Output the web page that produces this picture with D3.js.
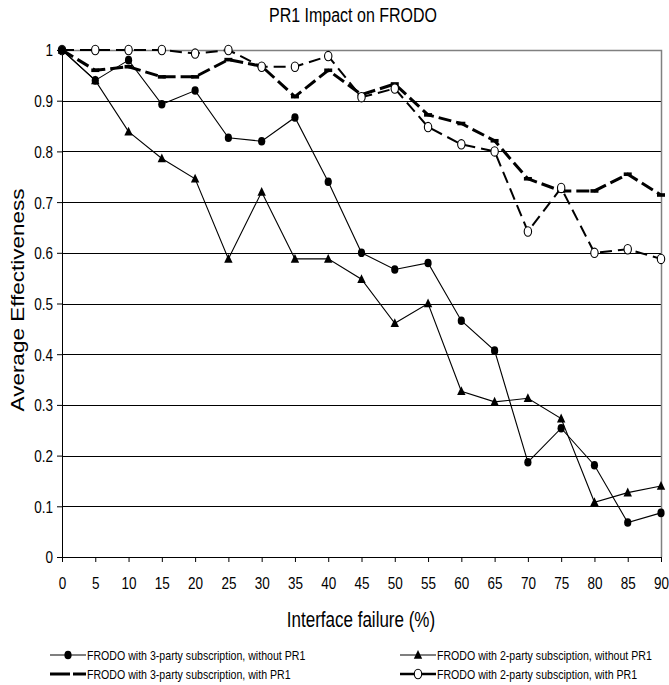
<!DOCTYPE html>
<html>
<head>
<meta charset="utf-8">
<script src="https://cdn.jsdelivr.net/npm/d3@7"></script>
<style>
  body { margin: 0; background: #fff; }
  svg { display: block; }
</style>
</head>
<body>
<div id="chart"></div>
<script>
// interface failure (%) on the x axis
const failure = [0, 5, 10, 15, 20, 25, 30, 35, 40, 45, 50, 55, 60, 65, 70, 75, 80, 85, 90];

// average effectiveness, one array per series
const threePartyNoPR1 = [1, 0.94, 0.98, 0.893, 0.92, 0.827, 0.82, 0.867, 0.74, 0.60, 0.567, 0.58, 0.466, 0.407, 0.187, 0.254, 0.181, 0.068, 0.087];
const twoPartyNoPR1   = [1, 0.94, 0.839, 0.786, 0.746, 0.588, 0.72, 0.588, 0.588, 0.548, 0.461, 0.50, 0.327, 0.306, 0.313, 0.273, 0.108, 0.127, 0.14];
const threePartyPR1   = [1, 0.96, 0.967, 0.947, 0.947, 0.981, 0.968, 0.908, 0.96, 0.912, 0.933, 0.872, 0.855, 0.821, 0.746, 0.722, 0.722, 0.755, 0.714];
const twoPartyPR1     = [1, 1, 1, 1, 0.993, 1, 0.967, 0.967, 0.988, 0.907, 0.924, 0.848, 0.814, 0.80, 0.642, 0.728, 0.60, 0.607, 0.588];

const yTicks = [0, 0.1, 0.2, 0.3, 0.4, 0.5, 0.6, 0.7, 0.8, 0.9, 1];

const seriesNames = [
  "FRODO with 3-party subscription, without PR1",
  "FRODO with 2-party subsciption, without PR1",
  "FRODO with 3-party subscription, with PR1",
  "FRODO with 2-party subsciption, with PR1"
];

const chartTitle = "PR1 Impact on FRODO";
const xTitle = "Interface failure (%)";
const yTitle = "Average Effectiveness";

// layout
const width = 669, height = 685;
const plotLeft = 62, plotRight = 661, plotTop = 50, plotBottom = 557;
const SY = 1.25;           // the reference is stretched vertically
const font = "'Liberation Sans', Arial, sans-serif";

const svg = d3.select("#chart").append("svg")
  .attr("width", width)
  .attr("height", height)
  .style("font-family", font);

const x = d3.scaleLinear().domain([0, 90]).range([plotLeft, plotRight]);
const y = d3.scaleLinear().domain([0, 1]).range([plotBottom, plotTop]);

function placeText(sel, tx, ty) {
  sel.attr("transform", "translate(" + tx + "," + ty + ") scale(1," + SY + ")");
}

// grid lines
svg.append("g")
  .attr("stroke", "#000")
  .attr("shape-rendering", "crispEdges")
  .selectAll("line")
  .data(yTicks.filter(d => d > 0 && d < 1))
  .enter().append("line")
  .attr("x1", plotLeft).attr("x2", plotRight)
  .attr("y1", d => Math.round(y(d)) + 0.5)
  .attr("y2", d => Math.round(y(d)) + 0.5);

// top and right frame
svg.append("path")
  .attr("d", "M" + plotLeft + "," + (plotTop + 0.5) + "H" + (plotRight + 0.5) + "V" + plotBottom)
  .attr("fill", "none")
  .attr("stroke", "#808080")
  .attr("stroke-width", 1.5);

// x axis
const xAxis = d3.axisBottom(x)
  .tickValues(failure)
  .tickSize(5)
  .tickSizeOuter(0)
  .tickFormat(d => String(d));

const gx = svg.append("g")
  .attr("transform", "translate(0," + plotBottom + ")")
  .call(xAxis);
gx.select(".domain").attr("stroke", "#000");
gx.selectAll(".tick line").attr("stroke", "#000");
gx.selectAll(".tick text")
  .attr("y", null).attr("dy", "0.35em")
  .attr("fill", "#000")
  .style("font-size", "13.5px")
  .style("font-family", font)
  .each(function () { placeText(d3.select(this), 0, 26); });

// y axis
const yAxis = d3.axisLeft(y)
  .tickValues(yTicks)
  .tickSize(5)
  .tickSizeOuter(0)
  .tickFormat(d => String(+d.toFixed(1)));

const gy = svg.append("g")
  .attr("transform", "translate(" + plotLeft + ",0)")
  .call(yAxis);
gy.select(".domain").attr("stroke", "#000");
gy.selectAll(".tick line").attr("stroke", "#000");
gy.selectAll(".tick text")
  .attr("x", null).attr("dy", "0.35em")
  .attr("fill", "#000")
  .style("font-size", "13.5px")
  .style("font-family", font)
  .each(function () { placeText(d3.select(this), -9, 0); });

// series
const line = d3.line()
  .x((d, i) => x(failure[i]))
  .y(d => y(d));

const series = [
  { values: threePartyNoPR1, width: 1.1, dash: null, marker: "dot" },
  { values: twoPartyNoPR1, width: 1.1, dash: null, marker: "triangle" },
  { values: threePartyPR1, width: 3, dash: "13,5", marker: "dash" },
  { values: twoPartyPR1, width: 2, dash: "12,6", marker: "ring" }
];

function drawMarker(g, kind, cx, cy) {
  if (kind === "dot") {
    g.append("ellipse").attr("cx", cx).attr("cy", cy)
      .attr("rx", 3.6).attr("ry", 4.3).attr("fill", "#000");
  } else if (kind === "triangle") {
    g.append("path")
      .attr("d", "M" + cx + "," + (cy - 5) + "L" + (cx + 4.2) + "," + (cy + 3.8) + "L" + (cx - 4.2) + "," + (cy + 3.8) + "Z")
      .attr("fill", "#000");
  } else if (kind === "dash") {
    g.append("rect").attr("x", cx - 4).attr("y", cy - 1.8)
      .attr("width", 8).attr("height", 3.6).attr("fill", "#000");
  } else if (kind === "ring") {
    g.append("ellipse").attr("cx", cx).attr("cy", cy)
      .attr("rx", 3.7).attr("ry", 4.7)
      .attr("fill", "#fff").attr("stroke", "#000").attr("stroke-width", 1.1);
  }
}

// draw dashed series first, solid series on top
[2, 3, 1, 0].forEach(k => {
  const s = series[k];
  const g = svg.append("g");
  g.append("path")
    .datum(s.values)
    .attr("d", line)
    .attr("fill", "none")
    .attr("stroke", "#000")
    .attr("stroke-width", s.width)
    .attr("stroke-dasharray", s.dash);
  s.values.forEach((v, i) => drawMarker(g, s.marker, x(failure[i]), y(v)));
});

// titles
svg.append("text")
  .text(chartTitle)
  .attr("text-anchor", "middle").attr("dy", "0.35em")
  .style("font-size", "16px")
  .call(placeText, 353, 15);

svg.append("text")
  .text(xTitle)
  .attr("text-anchor", "middle").attr("dy", "0.35em")
  .style("font-size", "17px")
  .call(placeText, 361, 620);

svg.append("g")
  .call(placeText, 18, 300)
  .append("text")
  .text(yTitle)
  .attr("transform", "rotate(-90)")
  .attr("text-anchor", "middle").attr("dy", "0.35em")
  .style("font-size", "18px");

// legend
const legendPos = [
  { lx: 50, ly: 655 }, { lx: 400, ly: 655 },
  { lx: 50, ly: 674 }, { lx: 400, ly: 674 }
];
const legendStroke = [
  { width: 1.1, dash: null }, { width: 1.1, dash: null },
  { width: 3, dash: "20,3" }, { width: 2.5, dash: null }
];

seriesNames.forEach((name, k) => {
  const p = legendPos[k];
  const g = svg.append("g");
  g.append("line")
    .attr("x1", p.lx).attr("x2", p.lx + 36)
    .attr("y1", p.ly).attr("y2", p.ly)
    .attr("stroke", "#000")
    .attr("stroke-width", legendStroke[k].width)
    .attr("stroke-dasharray", legendStroke[k].dash);
  if (k !== 2) drawMarker(g, series[k].marker, p.lx + 18, p.ly);
  g.append("text")
    .text(name)
    .attr("dy", "0.35em")
    .style("font-size", "10.6px")
    .call(placeText, p.lx + 37, p.ly);
});
</script>
</body>
</html>
